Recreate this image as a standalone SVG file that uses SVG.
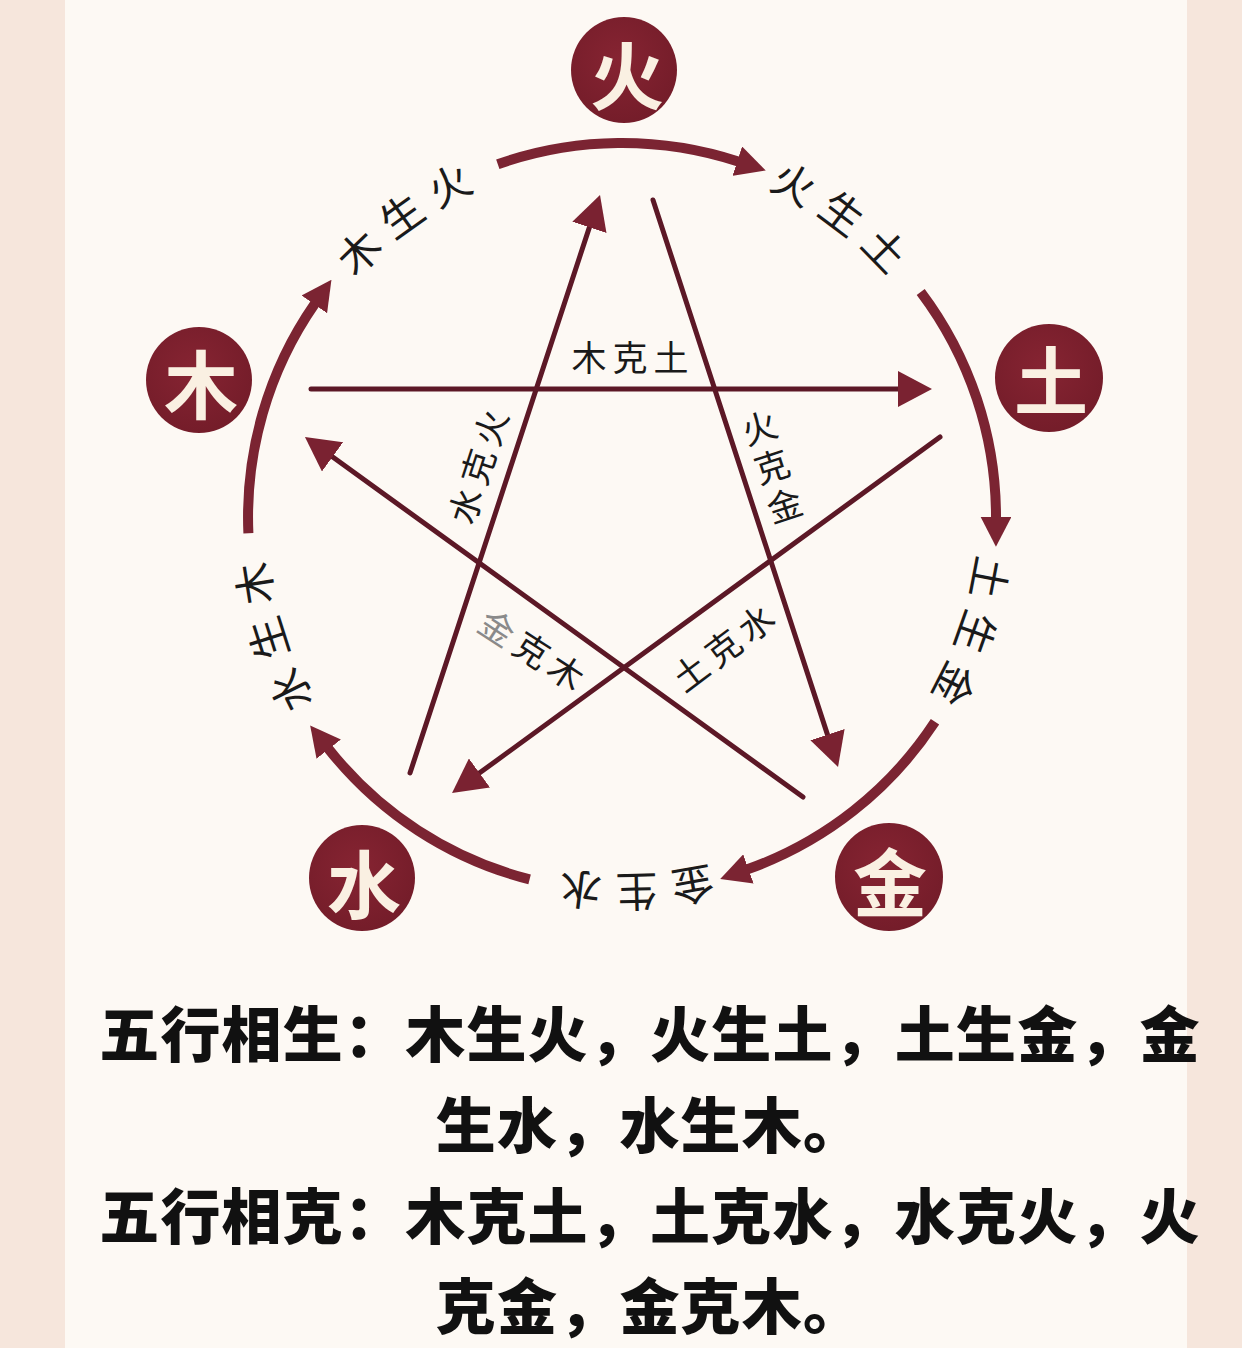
<svg xmlns="http://www.w3.org/2000/svg" xmlns:xlink="http://www.w3.org/1999/xlink" width="1242" height="1348" viewBox="0 0 1242 1348">
  <style>
    .node-c { fill: url(#ng); }
    .node-t { font-family: "Noto Sans CJK SC", sans-serif; font-weight: 700; font-size: 74px; fill: #faf0e2; text-anchor: middle; dominant-baseline: central; }
    .arc { fill: none; stroke: #7b2432; stroke-width: 10; marker-end: url(#ah-arc); }
    .star { fill: none; stroke: #5c1826; stroke-width: 5; stroke-linecap: round; marker-end: url(#ah-star); }
    .sheng { font-family: "Noto Sans CJK SC", sans-serif; font-weight: 400; font-size: 42px; fill: #1a1a1a; letter-spacing: 12px; text-anchor: middle; }
    .ke { font-family: "Noto Sans CJK SC", sans-serif; font-weight: 400; font-size: 35px; fill: #1a1a1a; letter-spacing: 6px; text-anchor: middle; dominant-baseline: central; }
    .kev { font-family: "Noto Sans CJK SC", sans-serif; font-weight: 400; font-size: 35px; fill: #1a1a1a; text-anchor: middle; dominant-baseline: central; }
    .big { font-family: "Noto Sans CJK SC", sans-serif; font-weight: 900; font-size: 60px; letter-spacing: 1.2px; fill: #111111; text-anchor: middle; dominant-baseline: central; }
  </style>
  <defs>
    <radialGradient id="ng" cx="45%" cy="40%" r="65%">
      <stop offset="0" stop-color="#862432"/>
      <stop offset="1" stop-color="#731c29"/>
    </radialGradient>
    <marker id="ah-arc" markerUnits="userSpaceOnUse" viewBox="0 0 30 31" markerWidth="30" markerHeight="31" refX="1" refY="15.5" orient="auto">
      <path d="M0,0 L30,15.5 L0,31 Z" fill="#7b2432"/>
    </marker>
    <marker id="ah-star" markerUnits="userSpaceOnUse" viewBox="0 0 34 36" markerWidth="34" markerHeight="36" refX="1" refY="18" orient="auto">
      <path d="M0,0 L34,18 L0,36 Z" fill="#7a2231"/>
    </marker>
    <path id="ring" d="M287.5,395.2 A356,356 0 1 1 956.5,638.8 A356,356 0 1 1 287.5,395.2"/>
  </defs>

  <!-- background -->
  <rect x="0" y="0" width="1242" height="1348" fill="#f6e6dc"/>
  <rect x="65" y="0" width="1122" height="1348" fill="#fdf9f4"/>

  <!-- connectors -->
  <g id="connectors">
    <!-- sheng cycle arcs -->
    <path class="arc" d="M497.8,164.2 A374,374 0 0 1 738.2,161.5"/>
    <path class="arc" d="M920.7,291.9 A374,374 0 0 1 996.0,517.7"/>
    <path class="arc" d="M935.0,721.8 A374,374 0 0 1 747.5,869.3"/>
    <path class="arc" d="M529.6,879.4 A374,374 0 0 1 328.1,748.3"/>
    <path class="arc" d="M248.4,533.3 A374,374 0 0 1 314.9,303.6"/>
    <!-- ke star lines -->
    <path class="star" d="M311,389 L899,389"/>
    <path class="star" d="M940,437 L478.7,773.6"/>
    <path class="star" d="M410,773 L589.7,226.4"/>
    <path class="star" d="M653,200 L827.8,735.6"/>
    <path class="star" d="M803,797 L331.7,456.3"/>

    <!-- sheng labels along the ring -->
    <text class="sheng"><textPath href="#ring" xlink:href="#ring" startOffset="216.6">木生火</textPath></text>
    <text class="sheng"><textPath href="#ring" xlink:href="#ring" startOffset="667.7">火生土</textPath></text>
    <text class="sheng"><textPath href="#ring" xlink:href="#ring" startOffset="1118.2">土生金</textPath></text>
    <text class="sheng"><textPath href="#ring" xlink:href="#ring" startOffset="1553.1">金生水</textPath></text>
    <text class="sheng"><textPath href="#ring" xlink:href="#ring" startOffset="2011.7">水生木</textPath></text>

    <!-- ke labels -->
    <text class="ke" transform="translate(630,355)" x="3" y="0">木克土</text>
    <text class="kev" transform="translate(771,464) rotate(-18)"><tspan x="0" y="-41">火</tspan><tspan x="0" y="0">克</tspan><tspan x="0" y="41">金</tspan></text>
    <text class="ke" transform="translate(476,466) rotate(-72)" x="3" y="0">水克火</text>
    <text class="ke" transform="translate(722,646) rotate(-37)" x="3" y="0">土克水</text>
    <text class="ke" transform="translate(533,648) rotate(33)" x="3" y="0"><tspan fill="#8a8a8a">金</tspan>克木</text>
  </g>

  <!-- nodes -->
  <g id="node-huo">
    <circle class="node-c" cx="624" cy="70" r="53"/>
    <text class="node-t" x="627" y="71">火</text>
  </g>
  <g id="node-tu">
    <circle class="node-c" cx="1049" cy="378" r="54"/>
    <text class="node-t" x="1051" y="376">土</text>
  </g>
  <g id="node-jin">
    <circle class="node-c" cx="889" cy="877" r="54"/>
    <text class="node-t" x="890" y="878">金</text>
  </g>
  <g id="node-shui">
    <circle class="node-c" cx="362" cy="878" r="53"/>
    <text class="node-t" x="364" y="880">水</text>
  </g>
  <g id="node-mu">
    <circle class="node-c" cx="199" cy="380" r="53"/>
    <text class="node-t" x="201" y="380">木</text>
  </g>

  <!-- caption -->
  <g id="caption">
    <text class="big" x="650" y="1030">五行相生：木生火，火生土，土生金，金</text>
    <text class="big" x="650" y="1121">生水，水生木。</text>
    <text class="big" x="650" y="1212">五行相克：木克土，土克水，水克火，火</text>
    <text class="big" x="650" y="1302">克金，金克木。</text>
  </g>
</svg>
